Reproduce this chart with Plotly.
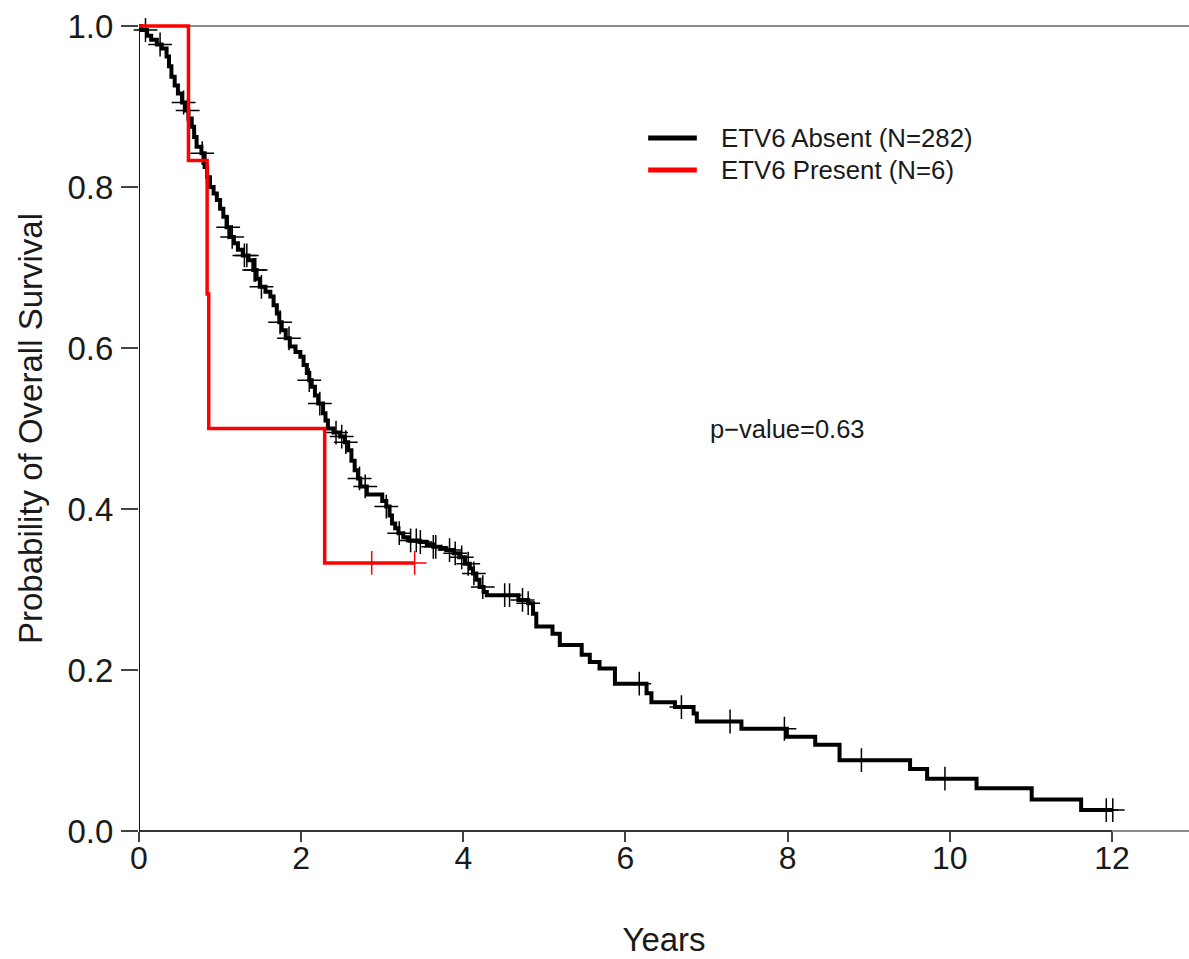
import numpy as np
import plotly.graph_objects as go

# Kaplan-Meier step data: time (years) at which the survival estimate changes
absent_time = [0, 0.03, 0.10, 0.15, 0.22, 0.28, 0.34, 0.37, 0.40, 0.44, 0.48, 0.53, 0.57,
               0.61, 0.65, 0.68, 0.71, 0.77, 0.81, 0.84, 0.875, 0.92, 0.96, 1.00, 1.04,
               1.08, 1.12, 1.17, 1.22, 1.28, 1.35, 1.41, 1.45, 1.49, 1.56, 1.62, 1.66,
               1.70, 1.73, 1.76, 1.81, 1.86, 1.93, 1.99, 2.03, 2.07, 2.10, 2.13, 2.17,
               2.21, 2.27, 2.30, 2.33, 2.40, 2.48, 2.54, 2.58, 2.62, 2.66, 2.70, 2.73,
               2.81, 3.00, 3.05, 3.09, 3.12, 3.16, 3.20, 3.26, 3.32, 3.46, 3.55, 3.63,
               3.72, 3.79, 3.88, 3.95, 4.02, 4.08, 4.12, 4.16, 4.20, 4.25, 4.29, 4.68,
               4.80, 4.86, 4.90, 5.10, 5.19, 5.46, 5.56, 5.68, 5.87, 6.26, 6.32, 6.61,
               6.84, 6.88, 7.43, 7.99, 8.34, 8.64, 9.51, 9.72, 10.33, 11.01, 11.62, 12.01]
absent_surv = [1.0, 0.995, 0.988, 0.983, 0.977, 0.972, 0.962, 0.950, 0.937, 0.926, 0.916,
               0.905, 0.895, 0.885, 0.875, 0.862, 0.850, 0.842, 0.825, 0.812, 0.800,
               0.792, 0.784, 0.773, 0.763, 0.750, 0.738, 0.730, 0.722, 0.715, 0.709,
               0.697, 0.686, 0.676, 0.670, 0.664, 0.653, 0.643, 0.632, 0.622, 0.612,
               0.602, 0.595, 0.589, 0.579, 0.569, 0.560, 0.552, 0.541, 0.531, 0.519,
               0.510, 0.500, 0.495, 0.490, 0.483, 0.473, 0.460, 0.448, 0.438, 0.428,
               0.418, 0.410, 0.403, 0.392, 0.382, 0.376, 0.370, 0.365, 0.361, 0.359,
               0.356, 0.353, 0.351, 0.349, 0.345, 0.340, 0.332, 0.326, 0.320, 0.312,
               0.303, 0.297, 0.293, 0.287, 0.283, 0.270, 0.254, 0.245, 0.231, 0.219,
               0.210, 0.202, 0.183, 0.171, 0.160, 0.154, 0.146, 0.136, 0.127, 0.117,
               0.107, 0.088, 0.077, 0.065, 0.053, 0.039, 0.026, 0.026]
absent_censor = [0.08, 0.26, 0.55, 0.60, 0.78, 1.10, 1.15, 1.30, 1.33, 1.42, 1.44, 1.51,
                 1.74, 1.85, 2.10, 2.23, 2.43, 2.50, 2.55, 2.72, 2.79, 3.05, 3.21, 3.35,
                 3.42, 3.47, 3.63, 3.66, 3.83, 3.90, 3.98, 4.06, 4.13, 4.24, 4.51, 4.57,
                 4.73, 4.80, 6.17, 6.69, 7.29, 7.96, 8.91, 9.94, 11.93, 12.01]

present_time = [0, 0.61, 0.84, 0.86, 2.29, 3.40]
present_surv = [1.0, 0.833, 0.667, 0.5, 0.333, 0.333]
present_censor = [2.87, 3.40]

legend_labels = ["ETV6 Absent (N=282)", "ETV6 Present (N=6)"]
p_value_text = "p\u2212value=0.63"

x_ticks = [0, 2, 4, 6, 8, 10, 12]
y_ticks = [0.0, 0.2, 0.4, 0.6, 0.8, 1.0]
y_ticktext = ["0.0", "0.2", "0.4", "0.6", "0.8", "1.0"]

FONT = "Liberation Sans, Arial, Helvetica, sans-serif"
TEXT = "#1a1a1a"


def surv_at(times, surv, t):
    idx = np.searchsorted(np.asarray(times), t, side="right") - 1
    return [surv[i] for i in idx]


fig = go.Figure()

for times, surv, cens, color, width in [
    (absent_time, absent_surv, absent_censor, "black", 4),
    (present_time, present_surv, present_censor, "#ff0000", 3.5),
]:
    fig.add_trace(go.Scatter(x=times, y=surv, mode="lines",
                             line=dict(shape="hv", color=color, width=width),
                             hoverinfo="skip", showlegend=False))
    fig.add_trace(go.Scatter(x=cens, y=surv_at(times, surv, cens), mode="markers",
                             marker=dict(symbol="cross-thin", size=17,
                                         line=dict(width=1.5, color=color)),
                             cliponaxis=False, hoverinfo="skip", showlegend=False))

# pixel geometry: t=0 at x=139, 81.08 px per year; s=0 at y=831, 805 px per unit
pad = 10 / 805
x_max = 1050 / 81.08

shapes = [
    # grey frame lines at 0 and 1
    dict(type="line", xref="paper", yref="y", x0=0, x1=1, y0=0, y1=0,
         line=dict(color="#8c8c8c", width=2), layer="below"),
    dict(type="line", xref="paper", yref="y", x0=0, x1=1, y0=1, y1=1,
         line=dict(color="#8c8c8c", width=2), layer="below"),
    # black axis segments
    dict(type="line", xref="x", yref="y", x0=0, x1=12, y0=0, y1=0,
         line=dict(color="#333333", width=2), layer="below"),
    dict(type="line", xref="x", yref="y", x0=0, x1=0, y0=0, y1=1,
         line=dict(color="#111111", width=2), layer="below"),
]

# legend drawn by hand
legend_y = [0.861, 0.821]
for lab, yy, color in zip(legend_labels, legend_y, ["black", "#ff0000"]):
    shapes.append(dict(type="line", xref="x", yref="y", x0=6.28, x1=6.88, y0=yy, y1=yy,
                       line=dict(color=color, width=5)))

annotations = [
    dict(x=7.15, y=yy, xref="x", yref="y", text=lab, showarrow=False,
         xanchor="left", yanchor="middle", font=dict(family=FONT, size=25.8, color=TEXT))
    for lab, yy in zip(legend_labels, legend_y)
]
annotations.append(dict(x=8, y=0.5, xref="x", yref="y", text=p_value_text,
                        showarrow=False, xanchor="center", yanchor="middle",
                        font=dict(family=FONT, size=25.5, color=TEXT)))

fig.update_layout(
    width=1189, height=959,
    margin=dict(l=139, r=0, t=16, b=118),
    paper_bgcolor="white", plot_bgcolor="white",
    font=dict(family=FONT, color=TEXT),
    shapes=shapes, annotations=annotations,
    xaxis=dict(range=[0, x_max], tickvals=x_ticks, ticktext=[str(v) for v in x_ticks],
               ticks="outside", ticklen=10, tickwidth=1.5, tickcolor="#444444",
               ticklabelstandoff=-11,
               showgrid=False, zeroline=False, showline=False,
               anchor="free", position=10 / 825,
               tickfont=dict(size=32, family=FONT, color=TEXT),
               title=dict(text="Years", font=dict(size=33, family=FONT, color=TEXT),
                          standoff=52)),
    yaxis=dict(range=[-pad, 1 + pad], tickvals=y_ticks, ticktext=y_ticktext,
               ticks="outside", ticklen=17, tickwidth=1.5, tickcolor="#444444",
               ticklabelstandoff=1,
               showgrid=False, zeroline=False, showline=False,
               tickfont=dict(size=33, family=FONT, color=TEXT),
               title=dict(text="Probability of Overall Survival",
                          font=dict(size=33, family=FONT, color=TEXT), standoff=14)),
)

fig.write_html("out.html")
